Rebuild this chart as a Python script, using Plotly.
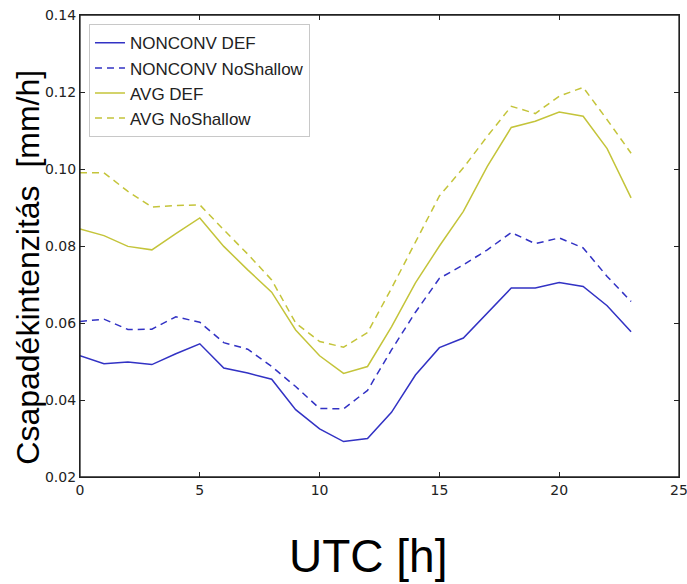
import plotly.graph_objects as go

hours = list(range(24))

nonconv_def = [0.0515, 0.0494, 0.0499, 0.0492, 0.0520, 0.0546, 0.0483, 0.0470,
               0.0454, 0.0375, 0.0325, 0.0292, 0.0300, 0.0368, 0.0465, 0.0536,
               0.0561, 0.0626, 0.0691, 0.0691, 0.0705, 0.0695, 0.0645, 0.0577]
nonconv_noshallow = [0.0604, 0.0610, 0.0583, 0.0584, 0.0616, 0.0602, 0.0549, 0.0532,
                     0.0487, 0.0435, 0.0378, 0.0377, 0.0425, 0.0530, 0.0628, 0.0716,
                     0.0751, 0.0790, 0.0835, 0.0806, 0.0821, 0.0795, 0.0721, 0.0656]
avg_def = [0.0844, 0.0827, 0.0799, 0.0790, 0.0832, 0.0873, 0.0799, 0.0738,
           0.0680, 0.0582, 0.0515, 0.0469, 0.0487, 0.0590, 0.0704, 0.0800,
           0.0890, 0.1007, 0.1108, 0.1124, 0.1148, 0.1137, 0.1053, 0.0925]
avg_noshallow = [0.0990, 0.0990, 0.0942, 0.0901, 0.0905, 0.0907, 0.0842, 0.0779,
                 0.0712, 0.0600, 0.0552, 0.0537, 0.0575, 0.0690, 0.0810, 0.0930,
                 0.1003, 0.1085, 0.1163, 0.1144, 0.1189, 0.1212, 0.1128, 0.1041]

series_names = ["NONCONV DEF", "NONCONV NoShallow", "AVG DEF", "AVG NoShallow"]
x_ticks = [0, 5, 10, 15, 20, 25]
x_ticklabels = ["0", "5", "10", "15", "20", "25"]
y_ticks = [0.02, 0.04, 0.06, 0.08, 0.10, 0.12, 0.14]
y_ticklabels = ["0.02", "0.04", "0.06", "0.08", "0.10", "0.12", "0.14"]

blue = "#3232c4"
yellow = "#c4c43a"
dash = "7px,5px"

fig = go.Figure()
specs = [
    (nonconv_def, blue, "solid"),
    (nonconv_noshallow, blue, dash),
    (avg_def, yellow, "solid"),
    (avg_noshallow, yellow, dash),
]
for name, (vals, col, ds) in zip(series_names, specs):
    fig.add_trace(go.Scatter(x=hours, y=vals, mode="lines", name=name,
                             line=dict(color=col, width=1.5, dash=ds)))

axis_common = dict(
    showgrid=False, zeroline=False, showline=True, linecolor="#222222",
    linewidth=1.3, mirror="allticks", ticks="inside", ticklen=5,
    tickcolor="#222222", tickwidth=1, automargin=False,
    ticklabeloverflow="allow",
    tickfont=dict(family="DejaVu Sans", size=14, color="#222222"),
)
fig.update_xaxes(range=[0, 25], tickvals=x_ticks, ticktext=x_ticklabels,
                 **axis_common)
fig.update_yaxes(range=[0.02, 0.14], tickvals=y_ticks, ticktext=y_ticklabels,
                 **axis_common)

# frame around the plotting area
fig.add_shape(type="rect", xref="paper", yref="paper", x0=0, x1=1, y0=0, y1=1,
              line=dict(color="#222222", width=1.3), fillcolor="rgba(0,0,0,0)",
              layer="above")

fig.update_layout(
    width=687, height=584,
    margin=dict(l=80, r=8, t=15, b=107, autoexpand=False),
    paper_bgcolor="white", plot_bgcolor="white",
    showlegend=True,
    legend=dict(x=0.015, y=0.98, xanchor="left", yanchor="top",
                font=dict(family="Liberation Sans", size=17, color="#222222"),
                bgcolor="white", bordercolor="#c8c8c8", borderwidth=1,
                itemwidth=30),
    annotations=[
        dict(text="UTC [h]", xref="paper", yref="paper", x=0.481, y=-0.171,
             xanchor="center", yanchor="middle", showarrow=False,
             font=dict(family="Liberation Sans", size=46, color="black")),
        dict(text="Csapadékintenzitás  [mm/h]", xref="paper", yref="paper",
             x=-0.087, y=0.455, xanchor="center", yanchor="middle",
             textangle=-90, showarrow=False,
             font=dict(family="Liberation Sans", size=32, color="black")),
    ],
)

fig.write_html("out.html", config={"displayModeBar": False},
               post_script="document.body.style.margin='0px';document.body.style.overflow='hidden';")
